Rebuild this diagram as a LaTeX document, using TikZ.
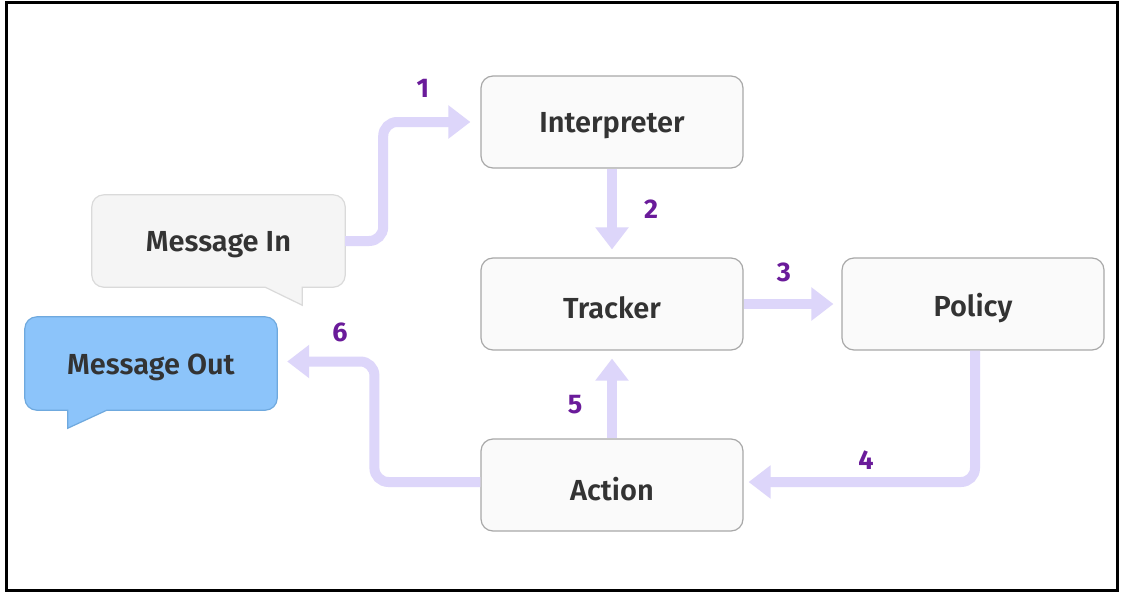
\documentclass[tikz,border=0pt]{standalone}
\usepackage{fontspec}
\setmainfont{Fira Sans}[UprightFont=* SemiBold, BoldFont=* Bold]
\usetikzlibrary{arrows.meta,calc}
\definecolor{boxfill}{HTML}{FAFAFA}
\definecolor{boxline}{HTML}{A8A8A8}
\definecolor{infill}{HTML}{F5F5F5}
\definecolor{inline}{HTML}{DADADA}
\definecolor{outfill}{HTML}{8CC4FA}
\definecolor{outline}{HTML}{6FA9DE}
\definecolor{flow}{HTML}{DDD6FA}
\definecolor{numc}{HTML}{6A1B9A}
\definecolor{txt}{HTML}{333333}
\tikzset{
  stepbox/.style={draw=boxline, fill=boxfill, line width=1.2pt, rounded corners=12pt,
    minimum width=262pt, minimum height=92pt, text=txt, font=\fontsize{29}{32}\selectfont},
  bubble/.style={minimum width=253pt, minimum height=92pt, text=txt, font=\fontsize{29}{32}\selectfont},
  flowline/.style={draw=flow, line width=10pt, rounded corners=14pt,
    -{Triangle[width=32pt,length=22pt]}},
  num/.style={text=numc, font=\bfseries\fontsize{27}{30}\selectfont}
}
\begin{document}
\begin{tikzpicture}[x=1pt,y=-1pt]
\useasboundingbox (0,0) rectangle (1124,594);
\fill[white] (0,0) rectangle (1124,594);
\draw[line width=3pt] (6,3) rectangle (1117,590);

% speech bubbles
\node[bubble] (min) at (218.5,241) {};
\draw[draw=inline, fill=infill, line width=1.2pt, rounded corners=12pt]
  (min.west) -- (min.north west) -- (min.north east) -- (min.south east)
  [sharp corners] -- ($(min.south east)+(-43,0)$) -- ($(min.south east)+(-43,18)$)
  -- ($(min.south east)+(-80,0)$) [rounded corners=12pt] -- (min.south west) -- cycle;
\node[bubble, yshift=-4pt] at (min) {Message In};

\node[bubble, minimum width=252pt, minimum height=93pt] (mout) at (151,363.5) {};
\draw[draw=outline, fill=outfill, line width=1.2pt, rounded corners=12pt]
  (mout.west) -- (mout.north west) -- (mout.north east) -- (mout.south east)
  [sharp corners] -- ($(mout.south west)+(82,0)$) -- ($(mout.south west)+(43,18)$)
  -- ($(mout.south west)+(43,0)$) [rounded corners=12pt] -- (mout.south west) -- cycle;
\node[bubble, minimum width=252pt, minimum height=93pt, yshift=-4pt] at (mout) {Message Out};

% boxes
\node[stepbox] (int) at (612,122) {};
\node[stepbox] (trk) at (612,304) {};
\node[stepbox] (pol) at (973,304) {};
\node[stepbox] (act) at (612,485) {};
\node[stepbox, draw=none, fill=none, yshift=-4pt] at (int) {Interpreter};
\node[stepbox, draw=none, fill=none, yshift=-4pt] at (trk) {Tracker};
\node[stepbox, draw=none, fill=none, yshift=-4pt] at (pol) {Policy};
\node[stepbox, draw=none, fill=none, yshift=-4pt] at (act) {Action};

% connectors
\draw[flowline] (min.east) -- ($(min.east)+(38,0)$) |- ([xshift=-10pt]int.west);
\draw[flowline] (int.south) -- ([yshift=8pt]trk.north);
\draw[flowline] (trk.east) -- ([xshift=-8pt]pol.west);
\draw[flowline] ([xshift=2pt]pol.south) |- ([xshift=5pt,yshift=3pt]act.east);
\draw[flowline] (act.north) -- ([yshift=-8pt]trk.south);
\draw[flowline] ([yshift=3pt]act.west) -- ++(-106,0) |- ([xshift=10pt,yshift=2pt]mout.east);

% numbers
\node[num] (n1) at (423,88) {1};
\node[num] (n2) at (651,209) {2};
\node[num] (n3) at (784,272) {3};
\node[num] (n4) at (866,460) {4};
\node[num] (n5) at (575,405) {5};
\node[num] (n6) at (340,332) {6};
\end{tikzpicture}
\end{document}
